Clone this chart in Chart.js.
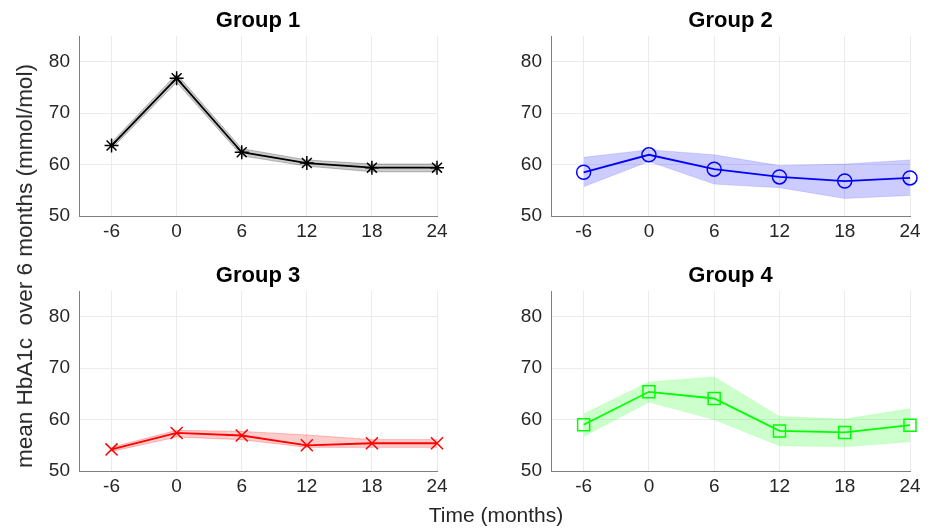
<!DOCTYPE html>
<html>
<head>
<meta charset="utf-8">
<script src="https://cdn.jsdelivr.net/npm/chart.js@4.4.1/dist/chart.umd.min.js"></script>
<style>
  html, body { margin: 0; padding: 0; background: #fff; }
  body { width: 934px; height: 528px; position: relative; overflow: hidden; font-family: "Liberation Sans", Arial, sans-serif; }
  canvas { position: absolute; }
  .lbl { position: absolute; color: #262626; font-size: 21px; white-space: pre; }
</style>
</head>
<body>
<canvas id="g1" style="left:30px;top:0px" width="430" height="250"></canvas>
<canvas id="g2" style="left:502px;top:0px" width="430" height="250"></canvas>
<canvas id="g3" style="left:30px;top:255px" width="430" height="250"></canvas>
<canvas id="g4" style="left:502px;top:255px" width="430" height="250"></canvas>
<div class="lbl" id="ylab" style="left:25px;top:266px;font-size:22.5px;transform:translate(-50%,-50%) rotate(-90deg);">mean HbA1c  over 6 months (mmol/mol)</div>
<div class="lbl" style="left:496px;top:503px;transform:translateX(-50%);">Time (months)</div>
<script>
const months = [-6, 0, 6, 12, 18, 24];
const xTicks = [-6, 0, 6, 12, 18, 24];
const yTicks = [50, 60, 70, 80];
const titles = ['Group 1', 'Group 2', 'Group 3', 'Group 4'];

const mean1 = [63.7, 76.8, 62.4, 60.3, 59.4, 59.4];
const upper1 = [64.3, 77.6, 63.1, 60.9, 60.1, 60.1];
const lower1 = [63.1, 76.0, 61.7, 59.7, 58.6, 58.6];

const mean2 = [58.5, 61.9, 59.1, 57.6, 56.8, 57.4];
const upper2 = [61.4, 62.9, 61.9, 59.8, 60.1, 60.9];
const lower2 = [55.7, 60.6, 56.2, 55.5, 53.4, 54.0];

const mean3 = [54.2, 57.4, 56.9, 55.0, 55.4, 55.4];
const upper3 = [54.6, 57.9, 57.7, 57.0, 56.1, 56.1];
const lower3 = [53.8, 56.6, 56.1, 54.6, 54.6, 54.6];

const mean4 = [59.0, 65.4, 64.1, 57.8, 57.5, 58.9];
const upper4 = [61.1, 67.3, 68.3, 60.6, 60.1, 62.1];
const lower4 = [56.7, 63.4, 60.0, 54.9, 54.7, 55.7];

const groups = [
  { id: 'g1', mean: mean1, upper: upper1, lower: lower1, color: '#000000', band: 'rgba(0,0,0,0.2)', edge: 'rgba(0,0,0,0.25)', marker: 'star', radius: 7, padRight: 23 },
  { id: 'g2', mean: mean2, upper: upper2, lower: lower2, color: '#0000ff', band: 'rgba(0,0,255,0.2)', edge: 'rgba(0,0,255,0.12)', marker: 'circle', radius: 7, padRight: 22 },
  { id: 'g3', mean: mean3, upper: upper3, lower: lower3, color: '#ff0000', band: 'rgba(255,0,0,0.2)', edge: 'rgba(255,0,0,0.25)', marker: 'crossRot', radius: 8.5, padRight: 23 },
  { id: 'g4', mean: mean4, upper: upper4, lower: lower4, color: '#00ff00', band: 'rgba(0,255,0,0.2)', edge: 'rgba(0,255,0,0.12)', marker: 'rect', radius: 8.5, padRight: 22 }
];

const pts = arr => arr.map((v, i) => ({ x: months[i], y: v }));

// draws the subplot title centred on the plot area
const titlePlugin = {
  id: 'subTitle',
  afterDraw(chart, args, opts) {
    const ctx = chart.ctx;
    const a = chart.chartArea;
    ctx.save();
    ctx.font = 'bold 22px "Liberation Sans", Arial, sans-serif';
    ctx.fillStyle = '#000';
    ctx.textAlign = 'center';
    ctx.textBaseline = 'alphabetic';
    ctx.fillText(opts.text, (a.left + a.right) / 2, a.top - 9);
    ctx.restore();
  }
};

groups.forEach((g, k) => {
  new Chart(document.getElementById(g.id), {
    type: 'line',
    data: {
      datasets: [
        { data: pts(g.upper), borderColor: g.edge, borderWidth: 1, backgroundColor: g.band, fill: '+1', pointRadius: 0, tension: 0 },
        { data: pts(g.lower), borderColor: g.edge, borderWidth: 1, fill: false, pointRadius: 0, tension: 0 },
        { data: pts(g.mean), borderColor: g.color, borderWidth: 1.8, fill: false, tension: 0, clip: false,
          pointStyle: g.marker, pointRadius: g.radius, pointBorderColor: g.color, pointBorderWidth: 1.5,
          pointBackgroundColor: 'rgba(0,0,0,0)' }
      ]
    },
    options: {
      responsive: false,
      animation: false,
      layout: { padding: { top: 36, right: g.padRight, left: 0, bottom: 0 } },
      plugins: { legend: { display: false }, tooltip: { enabled: false }, subTitle: { text: titles[k] } },
      scales: {
        x: {
          type: 'linear', min: -9, max: 24,
          afterBuildTicks: s => { s.ticks = xTicks.map(v => ({ value: v })); },
          afterFit: s => { s.height = 34; },
          grid: { color: '#ebebeb', drawTicks: false },
          border: { color: '#7f7f7f', width: 1 },
          ticks: { color: '#262626', font: { size: 19, family: '"Liberation Sans", Arial, sans-serif' }, padding: 4, maxRotation: 0 }
        },
        y: {
          min: 50, max: 85,
          afterBuildTicks: s => { s.ticks = yTicks.map(v => ({ value: v })); },
          afterFit: s => { s.width = 49; },
          grid: { color: '#ebebeb', drawTicks: false },
          border: { color: '#7f7f7f', width: 1 },
          ticks: { color: '#262626', font: { size: 19, family: '"Liberation Sans", Arial, sans-serif' }, padding: 9 }
        }
      }
    },
    plugins: [titlePlugin]
  });
});
</script>
</body>
</html>
